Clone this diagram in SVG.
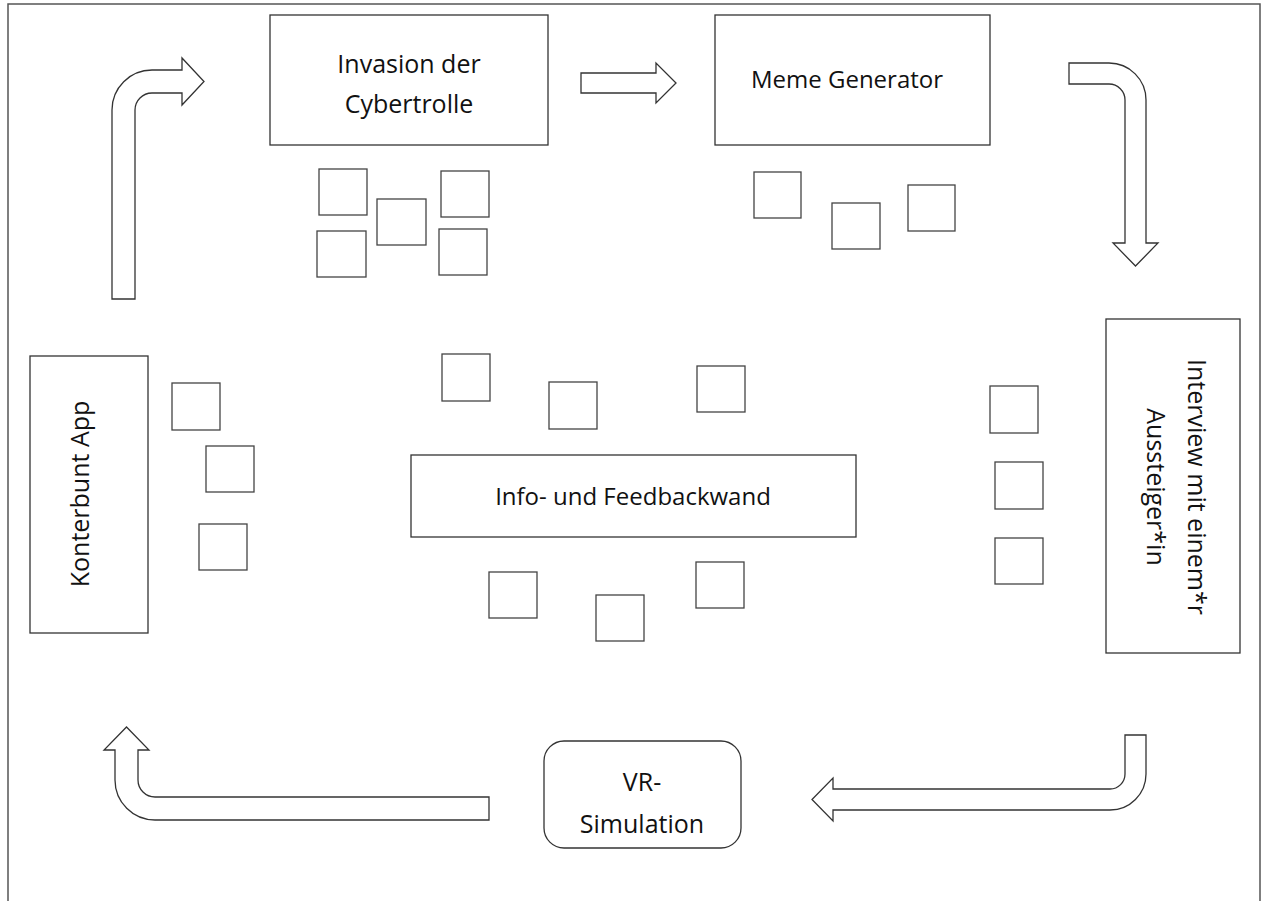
<svg xmlns="http://www.w3.org/2000/svg" width="1261" height="901" viewBox="0 0 1261 901">
<style>
.box{fill:#fff;stroke:#333;stroke-width:1.3}
.sq{fill:#fff;stroke:#444;stroke-width:1.3}
.arr{fill:#fff;stroke:#333;stroke-width:1.3;stroke-linejoin:miter}
.lbl{font-family:"Open Sans",sans-serif;font-size:25px;fill:#111;text-anchor:middle}
</style>
<rect width="1261" height="901" fill="#fff"/>
<path d="M8,901 L8,4 L1260,4 L1260,901" fill="none" stroke="#555" stroke-width="1.5"/>

<g id="connectors">
<path class="arr" d="M112,299 L112,110 A40,40 0 0 1 152,70 L182,70 L182,58 L204,81.5 L182,105 L182,93 L152,93 A17,17 0 0 0 135,110 L135,299 Z"/>
<path class="arr" d="M581,73 L656,73 L656,63 L676,83 L656,103 L656,93 L581,93 Z"/>
<path class="arr" d="M1069,63 L1109,63 A37,37 0 0 1 1146,100 L1146,243 L1158,243 L1135.5,266 L1113,243 L1125,243 L1125,100 A16,16 0 0 0 1109,84 L1069,84 Z"/>
<path class="arr" d="M1125,735 L1146,735 L1146,774 A36,36 0 0 1 1110,810 L833,810 L833,821 L812,799.5 L833,778 L833,789 L1110,789 A15,15 0 0 0 1125,774 Z"/>
<path class="arr" d="M489,797 L155,797 A17,17 0 0 1 138,780 L138,750 L149,750 L126.5,727 L104,750 L115,750 L115,780 A40,40 0 0 0 155,820 L489,820 Z"/>
</g>

<g id="invasion">
<rect class="box" x="270" y="15" width="278" height="130"/>
<text class="lbl" x="409" y="73">Invasion der</text>
<text class="lbl" x="409" y="113">Cybertrolle</text>
</g>
<g id="meme">
<rect class="box" x="715" y="15" width="275" height="130"/>
<text class="lbl" x="847" y="88" style="font-size:24px">Meme Generator</text>
</g>
<g id="konterbunt">
<rect class="box" x="30" y="356" width="118" height="277"/>
<text class="lbl" transform="translate(89,494) rotate(-90)">Konterbunt App</text>
</g>
<g id="interview">
<rect class="box" x="1106" y="319" width="134" height="334"/>
<text class="lbl" transform="translate(1188,487) rotate(90)">Interview mit einem*r</text>
<text class="lbl" transform="translate(1147,487) rotate(90)">Aussteiger*in</text>
</g>
<g id="info">
<rect class="box" x="411" y="455" width="445" height="82"/>
<text class="lbl" x="633" y="505" style="font-size:24px">Info- und Feedbackwand</text>
</g>
<g id="vr">
<rect class="box" x="544" y="741" width="197" height="107" rx="20" ry="20"/>
<text class="lbl" x="642" y="791">VR-</text>
<text class="lbl" x="642" y="833">Simulation</text>
</g>

<g id="squares">
<rect class="sq" x="319" y="169" width="48" height="46"/>
<rect class="sq" x="377" y="199" width="49" height="46"/>
<rect class="sq" x="441" y="171" width="48" height="46"/>
<rect class="sq" x="317" y="231" width="49" height="46"/>
<rect class="sq" x="439" y="229" width="48" height="46"/>
<rect class="sq" x="754" y="172" width="47" height="46"/>
<rect class="sq" x="832" y="203" width="48" height="46"/>
<rect class="sq" x="908" y="185" width="47" height="46"/>
<rect class="sq" x="172" y="383" width="48" height="47"/>
<rect class="sq" x="206" y="446" width="48" height="46"/>
<rect class="sq" x="199" y="524" width="48" height="46"/>
<rect class="sq" x="442" y="354" width="48" height="47"/>
<rect class="sq" x="549" y="382" width="48" height="47"/>
<rect class="sq" x="697" y="366" width="48" height="46"/>
<rect class="sq" x="489" y="572" width="48" height="46"/>
<rect class="sq" x="596" y="595" width="48" height="46"/>
<rect class="sq" x="696" y="562" width="48" height="46"/>
<rect class="sq" x="990" y="386" width="48" height="47"/>
<rect class="sq" x="995" y="462" width="48" height="47"/>
<rect class="sq" x="995" y="538" width="48" height="46"/>
</g>
</svg>
